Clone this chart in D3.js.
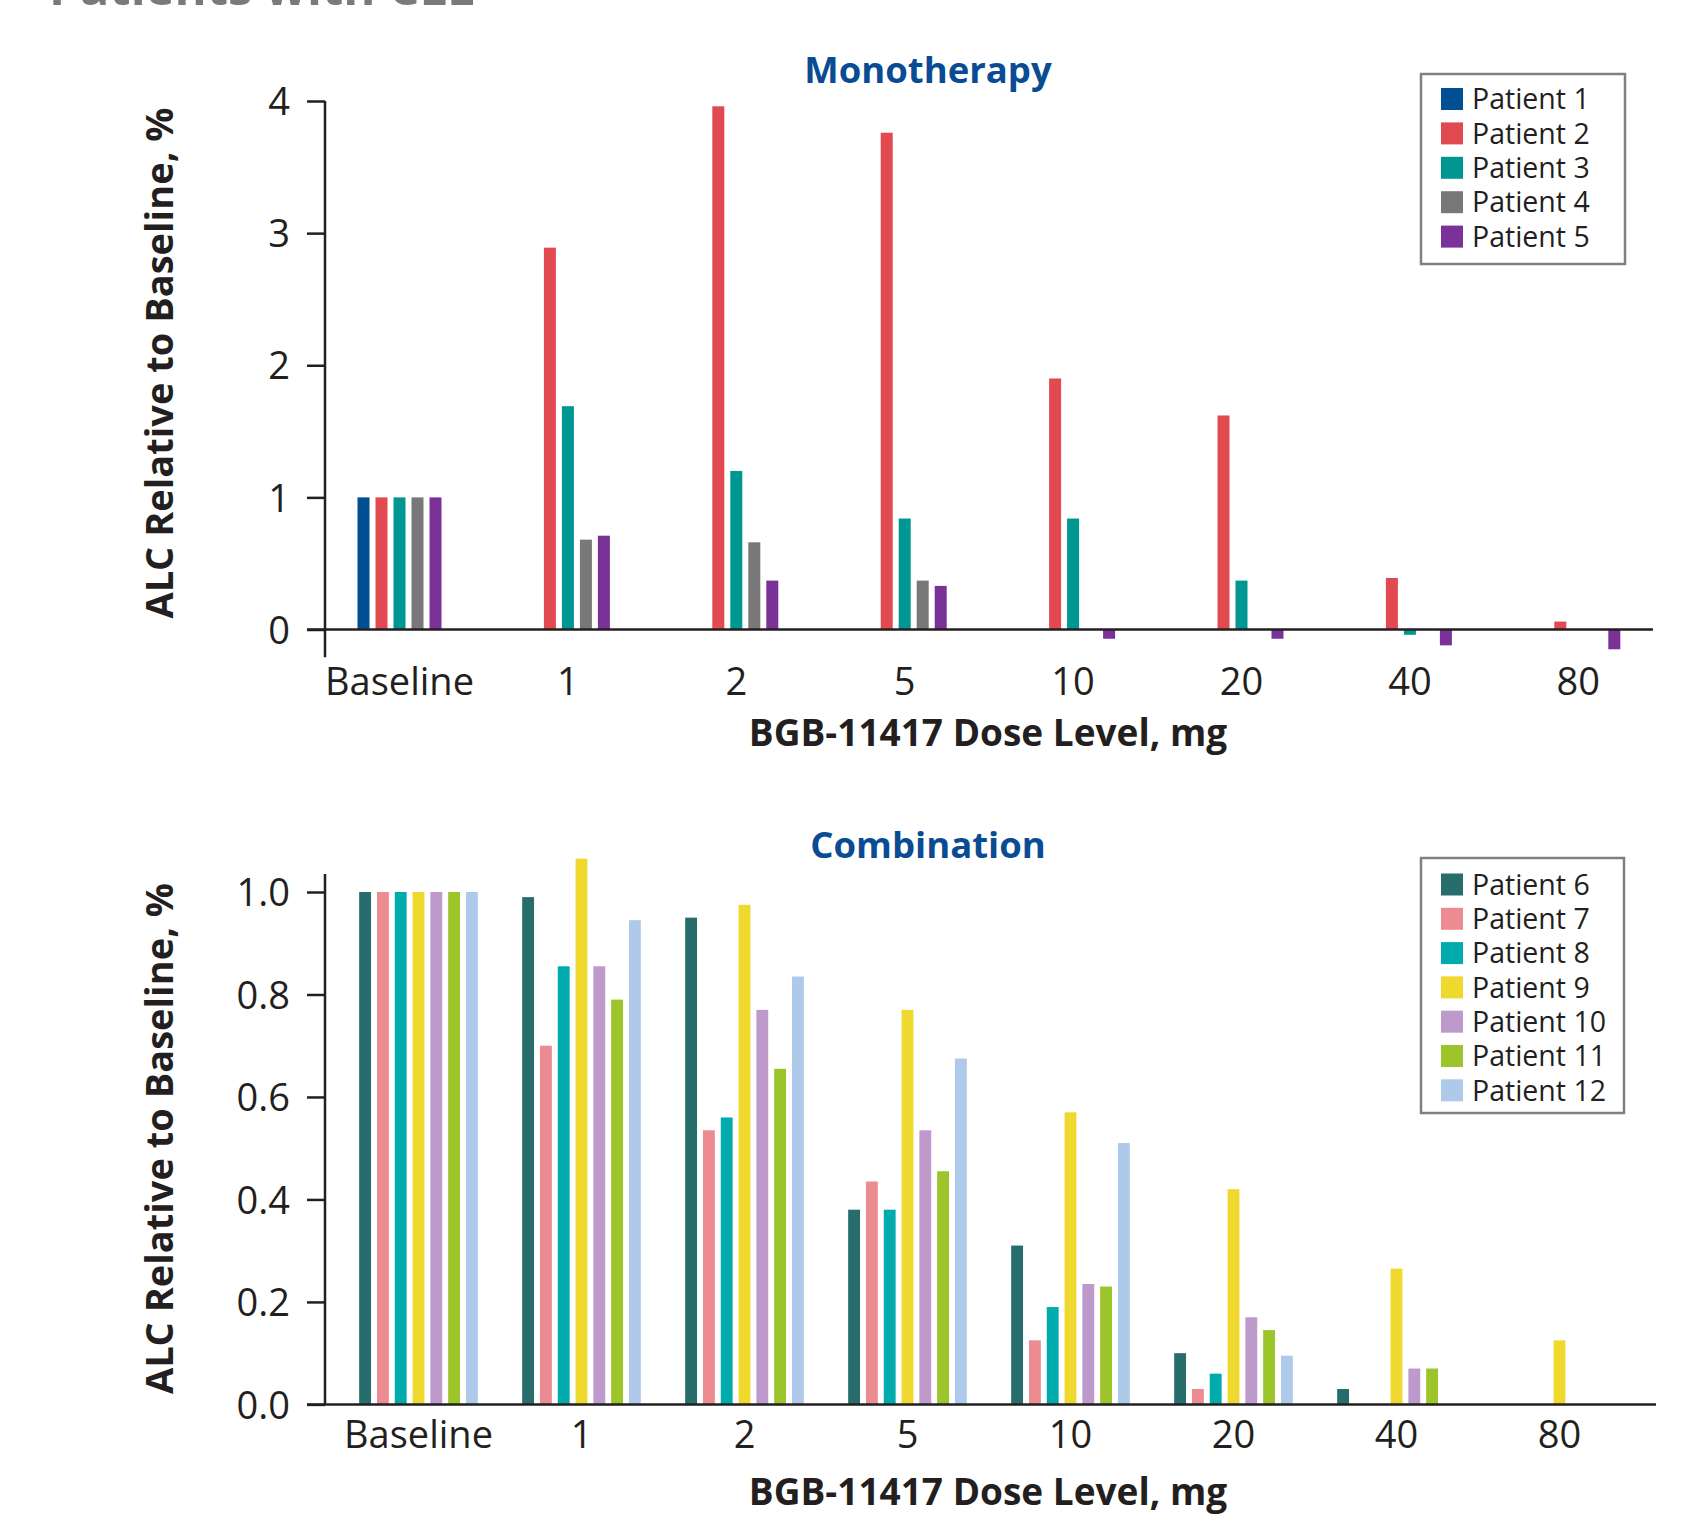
<!DOCTYPE html>
<html>
<head>
<meta charset="utf-8">
<script src="https://cdn.jsdelivr.net/npm/d3@7"></script>
<style>
    body { margin: 0; background: #fff; }
    svg { display: block; font-family: 'Open Sans', sans-serif; }
</style>
</head>
<body>
<div id="chart"></div>
<script>
'use strict';

// dose levels on the x axis (shared by both panels)
const doses = ['Baseline', '1', '2', '5', '10', '20', '40', '80'];

// monotherapy panel
const monoPatients = ['Patient 1', 'Patient 2', 'Patient 3', 'Patient 4', 'Patient 5'];
const monoColors = ['#004f93', '#e24a52', '#009691', '#787878', '#7a3299'];
const patient1 = [1, null, null, null, null, null, null, null];
const patient2 = [1, 2.89, 3.96, 3.76, 1.90, 1.62, 0.39, 0.06];
const patient3 = [1, 1.69, 1.20, 0.84, 0.84, 0.37, -0.04, null];
const patient4 = [1, 0.68, 0.66, 0.37, null, null, null, null];
const patient5 = [1, 0.71, 0.37, 0.33, -0.07, -0.07, -0.12, -0.15];
const monoTicks = [0, 1, 2, 3, 4];

// combination panel
const comboPatients = ['Patient 6', 'Patient 7', 'Patient 8', 'Patient 9', 'Patient 10', 'Patient 11', 'Patient 12'];
const comboColors = ['#266d6c', '#ec8b91', '#00abae', '#f0d92e', '#bd9acb', '#9cc42b', '#aec9ea'];
const patient6 = [1, 0.99, 0.95, 0.38, 0.31, 0.10, 0.03, null];
const patient7 = [1, 0.70, 0.535, 0.435, 0.125, 0.03, null, null];
const patient8 = [1, 0.855, 0.56, 0.38, 0.19, 0.06, null, null];
const patient9 = [1, 1.065, 0.975, 0.77, 0.57, 0.42, 0.265, 0.125];
const patient10 = [1, 0.855, 0.77, 0.535, 0.235, 0.17, 0.07, null];
const patient11 = [1, 0.79, 0.655, 0.455, 0.23, 0.145, 0.07, null];
const patient12 = [1, 0.945, 0.835, 0.675, 0.51, 0.095, null, null];
const comboTicks = [0, 0.2, 0.4, 0.6, 0.8, 1.0];

const ink = '#231f20';

let svg = d3.select('#chart').append('svg')
    .attr('width', 1698)
    .attr('height', 1515);

// page heading, mostly cropped off the top edge
svg.append('text')
    .attr('x', 49)
    .attr('y', 5)
    .attr('font-size', 49)
    .attr('font-weight', 700)
    .attr('fill', '#7a7a7a')
    .text('Patients with CLL');

drawPanel({
    title: 'Monotherapy',
    patients: monoPatients,
    colors: monoColors,
    series: [patient1, patient2, patient3, patient4, patient5],
    ticks: monoTicks,
    format: d3.format('d'),
    xRange: [315.3, 1662.5],
    groupWidth: 90,
    yDomain: [0, 4],
    yRange: [629.5, 101],
    yAxisExtent: [4, -0.21],
    xAxisExtent: [307, 1653],
    tickLabelOffset: 65.5,
    titleY: 83,
    xLabelY: 746,
    yLabelY: 363,
    legend: { x: 1421, y: 74, w: 204, h: 190, first: 99, step: 34.4 }
});

drawPanel({
    title: 'Combination',
    patients: comboPatients,
    colors: comboColors,
    series: [patient6, patient7, patient8, patient9, patient10, patient11, patient12],
    ticks: comboTicks,
    format: d3.format('.1f'),
    xRange: [337, 1641],
    groupWidth: 124.6,
    yDomain: [0, 1],
    yRange: [1404.4, 892],
    yAxisExtent: [1.035, 0],
    xAxisExtent: [307, 1656],
    tickLabelOffset: 43.5,
    titleY: 858,
    xLabelY: 1505,
    yLabelY: 1138.5,
    legend: { x: 1421, y: 858, w: 203, h: 255, first: 884.5, step: 34.3 }
});

function drawPanel(opts) {

    let g = svg.append('g').attr('class', 'panel');

    let x = d3.scaleBand()
        .domain(doses)
        .range(opts.xRange);

    let inner = d3.scaleBand()
        .domain(opts.patients)
        .range([-opts.groupWidth / 2, opts.groupWidth / 2])
        .paddingInner(1 / 3)
        .paddingOuter(1 / 6);

    let y = d3.scaleLinear()
        .domain(opts.yDomain)
        .range(opts.yRange);

    let color = d3.scaleOrdinal()
        .domain(opts.patients)
        .range(opts.colors);

    /*
    * bars: one rect per patient per dose, skipping missing values
     */
    let records = [];
    opts.series.forEach(function (values, i) {
        values.forEach(function (v, j) {
            if (v !== null) {
                records.push({ patient: opts.patients[i], dose: doses[j], value: v });
            }
        });
    });

    g.append('g').attr('class', 'bars')
        .selectAll('rect')
        .data(records)
        .enter()
        .append('rect')
        .attr('x', function (d) { return x(d.dose) + x.bandwidth() / 2 + inner(d.patient); })
        .attr('y', function (d) { return y(Math.max(0, d.value)); })
        .attr('width', inner.bandwidth())
        .attr('height', function (d) { return Math.abs(y(d.value) - y(0)); })
        .attr('fill', function (d) { return color(d.patient); });

    /*
    * axes
     */
    let yAxis = g.append('g')
        .attr('transform', 'translate(325,0)')
        .call(d3.axisLeft(y).tickValues(opts.ticks).tickSize(18).tickPadding(17).tickFormat(opts.format));

    yAxis.select('.domain').remove();
    yAxis.selectAll('line').attr('stroke', ink).attr('stroke-width', 2.5);
    yAxis.selectAll('text')
        .attr('font-family', 'Open Sans')
        .attr('font-size', 38)
        .attr('fill', ink)
        .attr('dy', '0.36em');

    g.append('line')
        .attr('x1', 325).attr('x2', 325)
        .attr('y1', y(opts.yAxisExtent[0]))
        .attr('y2', y(opts.yAxisExtent[1]))
        .attr('stroke', ink)
        .attr('stroke-width', 2.5);

    let xAxis = g.append('g')
        .attr('transform', 'translate(0,' + y(0) + ')')
        .call(d3.axisBottom(x).tickSize(0));

    xAxis.select('.domain').remove();
    xAxis.selectAll('text')
        .attr('font-family', 'Open Sans')
        .attr('font-size', 38)
        .attr('fill', ink)
        .attr('dy', null)
        .attr('y', opts.tickLabelOffset);

    g.append('line')
        .attr('x1', opts.xAxisExtent[0]).attr('x2', opts.xAxisExtent[1])
        .attr('y1', y(0)).attr('y2', y(0))
        .attr('stroke', ink)
        .attr('stroke-width', 2.5);

    /*
    * titles and axis labels
     */
    g.append('text')
        .attr('x', 928)
        .attr('y', opts.titleY)
        .attr('text-anchor', 'middle')
        .attr('font-size', 36.5)
        .attr('font-weight', 700)
        .attr('fill', '#0a4c94')
        .text(opts.title);

    g.append('text')
        .attr('x', 988)
        .attr('y', opts.xLabelY)
        .attr('text-anchor', 'middle')
        .attr('font-size', 37)
        .attr('font-weight', 700)
        .attr('fill', ink)
        .text('BGB-11417 Dose Level, mg');

    g.append('text')
        .attr('transform', 'translate(173,' + opts.yLabelY + ') rotate(-90)')
        .attr('text-anchor', 'middle')
        .attr('font-size', 38)
        .attr('font-weight', 700)
        .attr('fill', ink)
        .text('ALC Relative to Baseline, %');

    /*
    * legend box
     */
    let lg = g.append('g').attr('class', 'legend');

    lg.append('rect')
        .attr('x', opts.legend.x)
        .attr('y', opts.legend.y)
        .attr('width', opts.legend.w)
        .attr('height', opts.legend.h)
        .attr('fill', '#fff')
        .attr('stroke', '#808080')
        .attr('stroke-width', 2.5);

    let rows = lg.selectAll('.row')
        .data(opts.patients)
        .enter()
        .append('g')
        .attr('class', 'row')
        .attr('transform', function (d, i) { return 'translate(0,' + (opts.legend.first + i * opts.legend.step) + ')'; });

    rows.append('rect')
        .attr('x', 1441)
        .attr('y', -11)
        .attr('width', 22)
        .attr('height', 22)
        .attr('fill', function (d) { return color(d); });

    rows.append('text')
        .attr('x', 1472)
        .attr('dy', '0.36em')
        .attr('font-size', 28.5)
        .attr('fill', ink)
        .text(function (d) { return d; });
}
</script>
</body>
</html>
